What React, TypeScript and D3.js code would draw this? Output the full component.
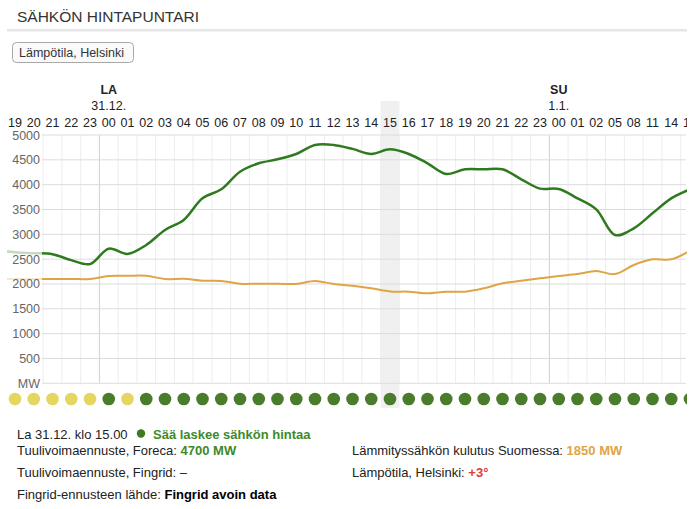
import React from "react";
import * as d3 from "d3";

const hours = ["18","19","20","21","22","23","00","01","02","03","04","05","06","07","08","09","10","11","12","13","14","15","16","17","18","19","20","21","22","23","00","01","02","05","08","11","14","17"];
const windMW = [2670,2640,2620,2600,2480,2400,2710,2605,2785,3087,3290,3725,3906,4261,4430,4510,4618,4800,4800,4720,4618,4712,4618,4430,4214,4309,4309,4309,4108,3920,3912,3725,3503,2986,3121,3423,3725,3906];
const heatMW = [2100,2100,2100,2100,2100,2100,2160,2165,2165,2100,2105,2066,2060,2005,2005,2005,2000,2060,2000,1966,1913,1850,1845,1812,1845,1845,1913,2013,2066,2114,2160,2200,2261,2200,2382,2496,2496,2670];
const effect = ["y","y","y","y","y","y","g","y","g","g","g","g","g","g","g","g","g","g","g","g","g","g","g","g","g","g","g","g","g","g","g","g","g","g","g","g","g","g"];
const yTicks = [0,500,1000,1500,2000,2500,3000,3500,4000,4500,5000];
const dayMarks = [{ idx: 6, day: "LA", date: "31.12." }, { idx: 30, day: "SU", date: "1.1." }];
const selectedIdx = 21;

const FONT = "'Liberation Sans', Arial, sans-serif";

export default function App() {
  const x = d3.scaleLinear().domain([1, 2]).range([15, 33.75]);
  const y = d3.scaleLinear().domain([0, 5000]).range([383.3, 135]);
  const step = x(1) - x(0);
  const plotL = 42, plotR = 686;

  const line = d3.line<number>().x((_, i) => x(i)).y((d) => y(d)).curve(d3.curveCatmullRom.alpha(0.5));

  const boundaries = d3.range(hours.length + 1).map((i) => x(i) - step / 2).filter((b) => b >= plotL - 0.5 && b <= plotR);

  return (
    <svg width={700} height={509} style={{ position: "absolute", left: 0, top: 0, fontFamily: FONT }}>
      <defs>
        <clipPath id="plotclip"><rect x={7} y={0} width={plotR - 6} height={509} /></clipPath>
      </defs>
      <rect width={700} height={509} fill="#fff" />
      <text x={17} y={22} fontSize={15.5} fill="#333">SÄHKÖN HINTAPUNTARI</text>
      <rect x={7} y={29} width={680} height={2.5} fill="#e6e6e6" />
      <rect x={12.5} y={42.5} width={121} height={20} rx={4} fill="#fafafa" stroke="#a8a8a8" />
      <text x={19} y={57} fontSize={12.5} fill="#333">Lämpötila, Helsinki</text>

      <g clipPath="url(#plotclip)">
        <rect x={x(selectedIdx) - step / 2} y={101} width={step} height={307} fill="#f0f0f0" />
        {dayMarks.map((d) => (
          <g key={d.day}>
            <text x={x(d.idx)} y={94} textAnchor="middle" fontSize={12.5} fontWeight="bold" fill="#222">{d.day}</text>
            <text x={x(d.idx)} y={110} textAnchor="middle" fontSize={12.5} fill="#222">{d.date}</text>
          </g>
        ))}
        {hours.map((h, i) => (x(i) < 7 ? null :
          <text key={i} x={x(i)} y={126.5} textAnchor="middle" fontSize={12.5} fill="#222">{h}</text>
        ))}
        {boundaries.map((b, i) => {
          const isDay = dayMarks.some((d) => Math.abs(x(d.idx) - step / 2 - b) < 0.5);
          return <line key={i} x1={b} x2={b} y1={135} y2={383.3} stroke={isDay ? "#d0d0d0" : "#ededed"} strokeWidth={1} />;
        })}
        {yTicks.map((t) => (
          <line key={t} x1={plotL} x2={plotR} y1={y(t)} y2={y(t)} stroke="#dcdcdc" strokeWidth={1} />
        ))}
        <path d={line(heatMW) || ""} fill="none" stroke="#e0a445" strokeWidth={2} />
        <path d={line(windMW) || ""} fill="none" stroke="#2f7a1f" strokeWidth={2.5} />
        {effect.map((e, i) => (
          <circle key={i} cx={x(i)} cy={399} r={6.3} fill={e === "g" ? "#4a7d2b" : "#e4d660"} />
        ))}
      </g>
      <rect x={0} y={132} width={plotL} height={255} fill="#fff" opacity={0.72} />
      {yTicks.map((t) => (
        <text key={t} x={40} y={y(t) + 4.5} textAnchor="end" fontSize={12.5} fill="#666">{t === 0 ? "MW" : t}</text>
      ))}

      <text x={17} y={438.5} fontSize={13} fill="#222">La 31.12. klo 15.00</text>
      <circle cx={141} cy={433.5} r={4.2} fill="#3d7a22" />
      <text x={153} y={438.5} fontSize={13} fontWeight="bold" fill="#3d8a2a">Sää laskee sähkön hintaa</text>
      <text x={17} y={455} fontSize={13} fill="#222">Tuulivoimaennuste, Foreca: <tspan fontWeight="bold" fill="#3d8a2a">4700 MW</tspan></text>
      <text x={352} y={455} fontSize={13} fill="#222">Lämmityssähkön kulutus Suomessa: <tspan fontWeight="bold" fill="#e0a445">1850 MW</tspan></text>
      <text x={17} y={476.5} fontSize={13} fill="#222">Tuulivoimaennuste, Fingrid: –</text>
      <text x={352} y={476.5} fontSize={13} fill="#222">Lämpötila, Helsinki: <tspan fontWeight="bold" fill="#e03a3a">+3°</tspan></text>
      <text x={17} y={498.5} fontSize={13} fill="#222">Fingrid-ennusteen lähde: <tspan fill="#000" fontWeight={600}>Fingrid avoin data</tspan></text>
    </svg>
  );
}
